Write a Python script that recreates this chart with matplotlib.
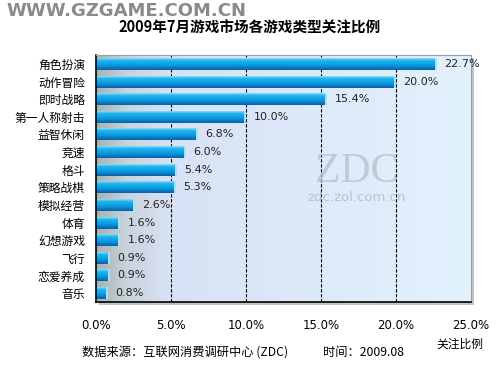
import numpy as np
import matplotlib
matplotlib.use("Agg")
import matplotlib.pyplot as plt
from matplotlib.colors import LinearSegmentedColormap

plt.rcParams['font.family'] = ['Noto Sans CJK SC', 'DejaVu Sans']

categories = ["角色扮演", "动作冒险", "即时战略", "第一人称射击", "益智休闲", "竞速", "格斗",
              "策略战棋", "模拟经营", "体育", "幻想游戏", "飞行", "恋爱养成", "音乐"]
values = [22.7, 20.0, 15.4, 10.0, 6.8, 6.0, 5.4, 5.3, 2.6, 1.6, 1.6, 0.9, 0.9, 0.8]
xticks = [0, 5, 10, 15, 20, 25]
xtick_labels = ["0.0%", "5.0%", "10.0%", "15.0%", "20.0%", "25.0%"]
title = "2009年7月游戏市场各游戏类型关注比例"

fig = plt.figure(figsize=(5, 3.75), dpi=100)
fig.patch.set_facecolor('white')

# shadow of plot area
sh = fig.add_axes([0.198, 0.187, 0.75, 0.658])
sh.set_axis_off()
sh.add_patch(plt.Rectangle((0, 0), 1, 1, transform=sh.transAxes, facecolor='#c4c4c4', edgecolor='none'))
sh.set_zorder(0)

ax = fig.add_axes([0.192, 0.195, 0.75, 0.658])
ax.set_zorder(2)
n = len(categories)
ax.set_xlim(0, 25)
ax.set_ylim(n - 0.5, -0.5)

# background gradient
bg = LinearSegmentedColormap.from_list('bg', [(0, '#a9b2ae'), (0.08, '#c9d3dc'), (0.2, '#d8e2f6'),
                                              (1.0, '#e2f2fd')])
grad = np.linspace(0, 1, 256).reshape(1, -1)
ax.imshow(grad, cmap=bg, aspect='auto', extent=(0, 25, n - 0.5, -0.5), zorder=0)

# grid
for t in xticks[1:-1]:
    ax.axvline(t, color='black', linestyle=(0, (3, 1.5)), linewidth=0.8, zorder=1)

# bars with vertical gradient
barcm = LinearSegmentedColormap.from_list('bar', [(0, '#8fdcf6'), (0.2, '#1fb6ee'),
                                                  (0.6, '#0a9ae0'), (1.0, '#0a5fa8')])
h = 0.68
vg = np.linspace(0, 1, 64).reshape(-1, 1)
for i, v in enumerate(values):
    ax.imshow(vg, cmap=barcm, aspect='auto', extent=(0, v, i + h / 2, i - h / 2), zorder=2)
    ax.add_patch(plt.Rectangle((v - 0.12, i - h / 2), 0.12, h, facecolor='#9fe4f8',
                               edgecolor='none', zorder=3))
    ax.text(v + 0.5, i, f"{v:.1f}%", va='center', ha='left', fontsize=8,
            family=['DejaVu Sans'], color='#222222', zorder=4)

ax.set_yticks(range(n))
ax.set_yticklabels(categories, fontsize=8.5)
ax.set_xticks(xticks)
ax.set_xticklabels(xtick_labels, fontsize=8.5, family=['DejaVu Sans'])
ax.tick_params(axis='y', length=3, direction='in', pad=8)
ax.tick_params(axis='x', length=0, pad=12)
for s in ['top', 'right']:
    ax.spines[s].set_color('#9aa0a8')
    ax.spines[s].set_linewidth(0.8)
for s in ['left', 'bottom']:
    ax.spines[s].set_color('black')
    ax.spines[s].set_linewidth(1.2)

# watermark ZDC
ax.text(17.4, 6.1, "ZDC", fontsize=30, family=['Liberation Serif'], color='#b8c2cc',
        ha='center', va='center', zorder=1.5, alpha=0.8)
ax.text(17.4, 7.55, "zdc.zol.com.cn", fontsize=9.5, family=['DejaVu Sans'], color='#b8c2cc',
        ha='center', va='center', zorder=1.5)

fig.text(0.5, 0.925, title, ha='center', va='center', fontsize=10.5, fontweight='bold')
fig.text(0.012, 0.972, "WWW.GZGAME.COM.CN", ha='left', va='center', fontsize=13,
         fontweight='bold', color='#8a8a8a', family=['DejaVu Sans'])
fig.text(0.164, 0.06, "数据来源：互联网消费调研中心 (ZDC)", ha='left', va='center', fontsize=8.8)
fig.text(0.645, 0.06, "时间：2009.08", ha='left', va='center', fontsize=8.8)
fig.text(0.872, 0.083, "关注比例", ha='left', va='center', fontsize=8.5)

fig.savefig("out.png", dpi=100)
